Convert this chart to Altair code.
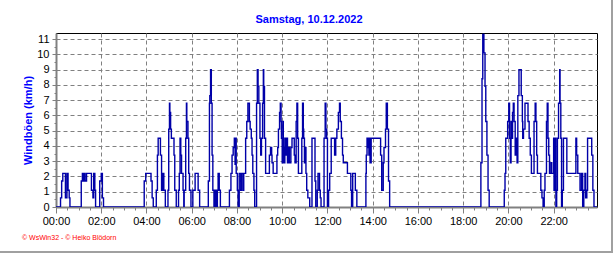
import altair as alt
import pandas as pd

# change points: minutes since midnight, gust value in km/h (held until next point)
times_min = [
    0, 12, 15, 18, 25, 29, 32, 35, 37,
    67, 70, 73, 76, 77, 81, 94, 98, 100, 103, 105,
    116, 120, 123, 126,
    234, 238, 252, 255, 258,
    266, 269, 271, 277, 280, 283,
    286, 290, 297, 299, 301, 302, 304, 306, 313, 315, 319,
    325, 327, 329, 331, 333, 337, 339,
    340, 344, 346, 347, 350, 352, 354, 358,
    363, 369, 377, 381,
    404, 407, 408, 410, 412, 414, 416, 419,
    422, 425, 428, 430, 433, 436,
    460, 464, 467, 470, 473, 475, 476, 478, 481, 483,
    486, 490, 492, 496,
    498, 503, 506, 509, 513, 515, 518, 520, 522, 525, 527,
    532, 534, 536, 538, 541, 543, 545, 548, 550, 551, 553, 556,
    566, 569, 572,
    573, 576, 586, 588, 590, 593, 595, 597, 598, 600, 602, 603, 605, 607, 610, 612,
    614, 617, 619, 623, 626, 632, 634, 637, 639, 641, 643, 652, 654, 656, 657, 659,
    661, 663, 665, 668, 673, 679, 687, 689, 693, 695, 699, 701, 703, 711, 714, 716,
    718, 720, 723, 726, 730, 739, 742, 745, 749, 752, 754, 757, 760, 762, 773, 782,
    784, 787, 794, 798, 822, 823, 825, 828, 830, 831, 833, 836, 861, 864, 868, 870,
    874, 876, 879, 882, 885,
    1127, 1130, 1132, 1135, 1138, 1140, 1143, 1146, 1149,
    1189, 1191, 1193, 1198, 1201, 1203, 1205, 1207, 1209, 1211, 1213, 1215, 1218, 1220,
    1223, 1225, 1228, 1234, 1237, 1238, 1240, 1244, 1252, 1255, 1258, 1261, 1268, 1271,
    1273, 1275, 1277, 1286, 1289, 1292, 1295, 1297, 1301, 1303, 1305, 1307, 1309, 1313,
    1315, 1320, 1321, 1324, 1326, 1328, 1330, 1333, 1336, 1337, 1339, 1341, 1343, 1346,
    1355, 1379, 1381, 1384, 1390, 1394, 1397, 1400, 1403, 1405, 1408, 1410, 1421, 1424,
    1427, 1435,
]

gust_kmh = [
    0, 0.6, 1.7, 2.2, 0.6, 2.2, 1.1, 0.6, 0,
    1.7, 2.2, 1.7, 2.2, 1.7, 2.2, 1.1, 0.6, 2.2, 1.1, 0,
    1.7, 2.2, 0.6, 0,
    1.7, 2.2, 1.7, 0.6, 0,
    1.1, 3.4, 4.5, 3.4, 1.1, 2.2,
    1.1, 0, 1.1, 5.1, 6.8, 6.2, 5.1, 4.5, 3.4, 1.1, 0,
    1.1, 2.2, 4.5, 3.4, 2.2, 1.1, 0,
    1.1, 4.5, 6.8, 5.6, 4.5, 2.2, 1.1, 0,
    1.1, 2.2, 1.1, 0,
    1.7, 6.8, 7.3, 9.0, 6.8, 3.4, 1.1, 0,
    1.1, 0, 1.1, 2.2, 1.1, 0,
    1.1, 2.2, 3.4, 3.9, 4.5, 2.8, 4.5, 2.2, 1.1, 0,
    2.2, 1.1, 2.2, 1.1,
    2.2, 4.5, 5.6, 6.8, 5.6, 5.1, 4.5, 3.4, 2.2, 1.1, 0,
    6.8, 9.0, 7.9, 6.8, 4.5, 3.4, 4.5, 6.8, 9.0, 7.9, 4.5, 2.2,
    3.4, 3.9, 3.4,
    2.9, 2.2, 3.4, 3.9, 5.1, 6.2, 6.8, 5.6, 4.5, 2.9, 5.6, 3.9, 2.9, 4.5, 3.4, 4.5,
    2.9, 3.9, 2.9, 3.9, 4.5, 3.4, 2.9, 5.6, 6.8, 4.5, 2.2, 4.5, 6.8, 5.1, 4.5, 2.9,
    3.9, 2.2, 1.1, 0.6, 0, 4.5, 1.7, 0, 1.1, 2.2, 1.1, 0.6, 0, 4.5, 6.8, 5.1,
    4.5, 0, 1.1, 2.2, 4.5, 3.4, 4.5, 5.1, 6.2, 6.8, 5.6, 4.5, 3.4, 2.9, 2.2, 1.1,
    0, 2.2, 1.1, 0, 2.2, 3.4, 4.5, 3.9, 3.4, 4.5, 2.9, 4.5, 3.4, 1.1, 2.9, 3.9,
    5.1, 6.8, 5.1, 1.7, 0,
    2.9, 8.4, 11.3, 10.1, 7.9, 5.6, 3.4, 1.1, 0,
    1.1, 2.2, 4.5, 5.6, 6.8, 4.5, 2.9, 5.6, 4.5, 6.2, 6.8, 5.6, 3.4, 4.5,
    2.9, 7.3, 9.0, 7.3, 5.6, 4.5, 5.1, 6.8, 5.6, 4.5, 3.4, 2.2, 5.6, 6.8,
    5.6, 3.4, 2.2, 1.1, 0.6, 0, 1.1, 2.2, 5.6, 6.8, 4.5, 3.4, 2.2, 2.9,
    2.2, 4.5, 1.1, 4.5, 0, 1.1, 4.5, 6.8, 9.0, 6.8, 4.5, 0, 1.1, 4.5,
    2.2, 4.5, 3.4, 2.2, 1.1, 2.2, 0, 1.1, 2.2, 0.6, 1.1, 4.5, 3.4, 1.1,
    0, 0,
]

x_tick_values = list(range(0, 1441, 30))
y_tick_values = [i / 2 for i in range(0, 23)]
chart_title = "Samstag, 10.12.2022"
y_title = "Windböen  (km/h)"
credit = "© WsWin32  -  © Heiko Blödorn"

assert len(times_min) == len(gust_kmh)
df = pd.DataFrame({"minute": times_min, "gust": gust_kmh})

FONT = "Liberation Sans"

x_axis = alt.Axis(
    values=x_tick_values,
    labelExpr="datum.value % 120 == 0 ? ((floor(datum.value/60) < 10 ? '0' : '') + floor(datum.value/60) + ':00') : ''",
    title=None,
    grid=True,
    gridColor="#808080",
    gridDash=[4, 3],
    gridOpacity={"condition": {"test": "datum.value % 120 == 0 && datum.value > 0", "value": 1}, "value": 0},
    tickSize={"condition": {"test": "datum.value % 120 == 0", "value": 6}, "value": 3},
    tickColor="#808080",
    domainColor="#808080",
    domainWidth=2,
    labelFont=FONT,
    labelFontSize=11,
    labelColor="black",
    labelPadding=2,
    labelFlush=False,
    labelOverlap=False,
)

y_axis = alt.Axis(
    values=y_tick_values,
    labelExpr="datum.value % 1 == 0 ? datum.value : ''",
    title=y_title,
    titleFont=FONT,
    titleFontSize=11,
    titleFontWeight="bold",
    titleColor="#0000ff",
    titleX=-25,
    titleY=87,
    titleAngle=270,
    titleBaseline="alphabetic",
    titleAlign="center",
    grid=True,
    gridColor="#808080",
    gridDash=[4, 3],
    gridOpacity={"condition": {"test": "datum.value % 1 == 0 && datum.value > 0", "value": 1}, "value": 0},
    tickSize={"condition": {"test": "datum.value % 1 == 0", "value": 4}, "value": 2},
    tickColor="#808080",
    domainColor="#808080",
    domainWidth=2,
    labelFont=FONT,
    labelFontSize=11,
    labelColor="black",
    labelPadding=3,
    labelOverlap=False,
    labelFlush=False,
)

line = alt.Chart(df).mark_line(
    interpolate="step-after", color="#0000a8", strokeWidth=1.4, clip=True
).encode(
    x=alt.X("minute:Q", scale=alt.Scale(domain=[0, 1435], nice=False, zero=False), axis=x_axis),
    y=alt.Y("gust:Q", scale=alt.Scale(domain=[0, 11.4], nice=False), axis=y_axis),
)

title_text = alt.Chart(pd.DataFrame({"t": [chart_title]})).mark_text(
    align="center", baseline="alphabetic", font=FONT, fontSize=11, fontWeight="bold", color="#0000ff"
).encode(text="t:N", x=alt.value(253), y=alt.value(-10))

credit_text = alt.Chart(pd.DataFrame({"t": [credit]})).mark_text(
    align="left", baseline="middle", font=FONT, fontSize=7, color="#ff0000"
).encode(text="t:N", x=alt.value(-34), y=alt.value(205))

frame_right = alt.Chart(pd.DataFrame({"k": [0]})).mark_rule(
    color="#a0a0a0", strokeWidth=2
).encode(x=alt.value(556), y=alt.value(-33), y2=alt.value(220))

frame_bottom = alt.Chart(pd.DataFrame({"k": [0]})).mark_rule(
    color="#a0a0a0", strokeWidth=2
).encode(x=alt.value(-56), x2=alt.value(557), y=alt.value(219))

chart = alt.layer(line, title_text, credit_text, frame_right, frame_bottom).properties(
    width=541,
    height=174,
    autosize=alt.AutoSizeParams(type="none"),
    padding={"left": 56, "top": 33, "right": 19, "bottom": 46},
    background="white",
).configure_view(stroke="black", strokeWidth=1)

chart.save("out.html", embed_options={"renderer": "svg", "actions": False})
